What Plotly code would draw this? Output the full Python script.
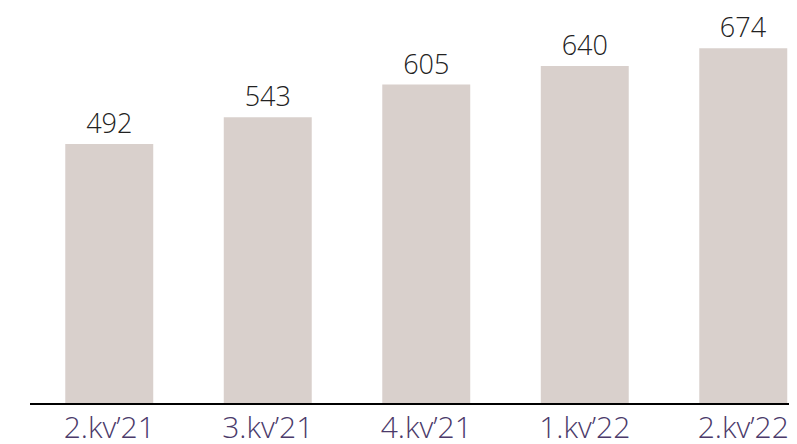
import plotly.graph_objects as go

categories = ["2.kv’21", "3.kv’21", "4.kv’21", "1.kv’22", "2.kv’22"]
values = [492, 543, 605, 640, 674]

fig = go.Figure(go.Bar(
    x=categories, y=values,
    marker=dict(color="#d9d0cc", line=dict(width=0)),
    width=0.555,
    text=[str(v) for v in values], textposition="outside",
    textfont=dict(family="Open Sans", size=27, color="#222222", weight=300),
    cliponaxis=False,
))

fig.update_layout(
    width=797, height=444,
    margin=dict(l=22, r=8, t=0, b=49),
    plot_bgcolor="white", paper_bgcolor="white",
    showlegend=False,
    bargap=0.445,
    xaxis=dict(range=[-0.5, 4.339], showline=True, linecolor="black", linewidth=2,
               showgrid=False, ticks="", automargin=False, ticklabelstandoff=-3,
               tickfont=dict(family="Open Sans", size=30, color="#4b3a6a", weight=300)),
    yaxis=dict(range=[0, 750.4], visible=False, showgrid=False, zeroline=False),
)

fig.write_html("out.html")
